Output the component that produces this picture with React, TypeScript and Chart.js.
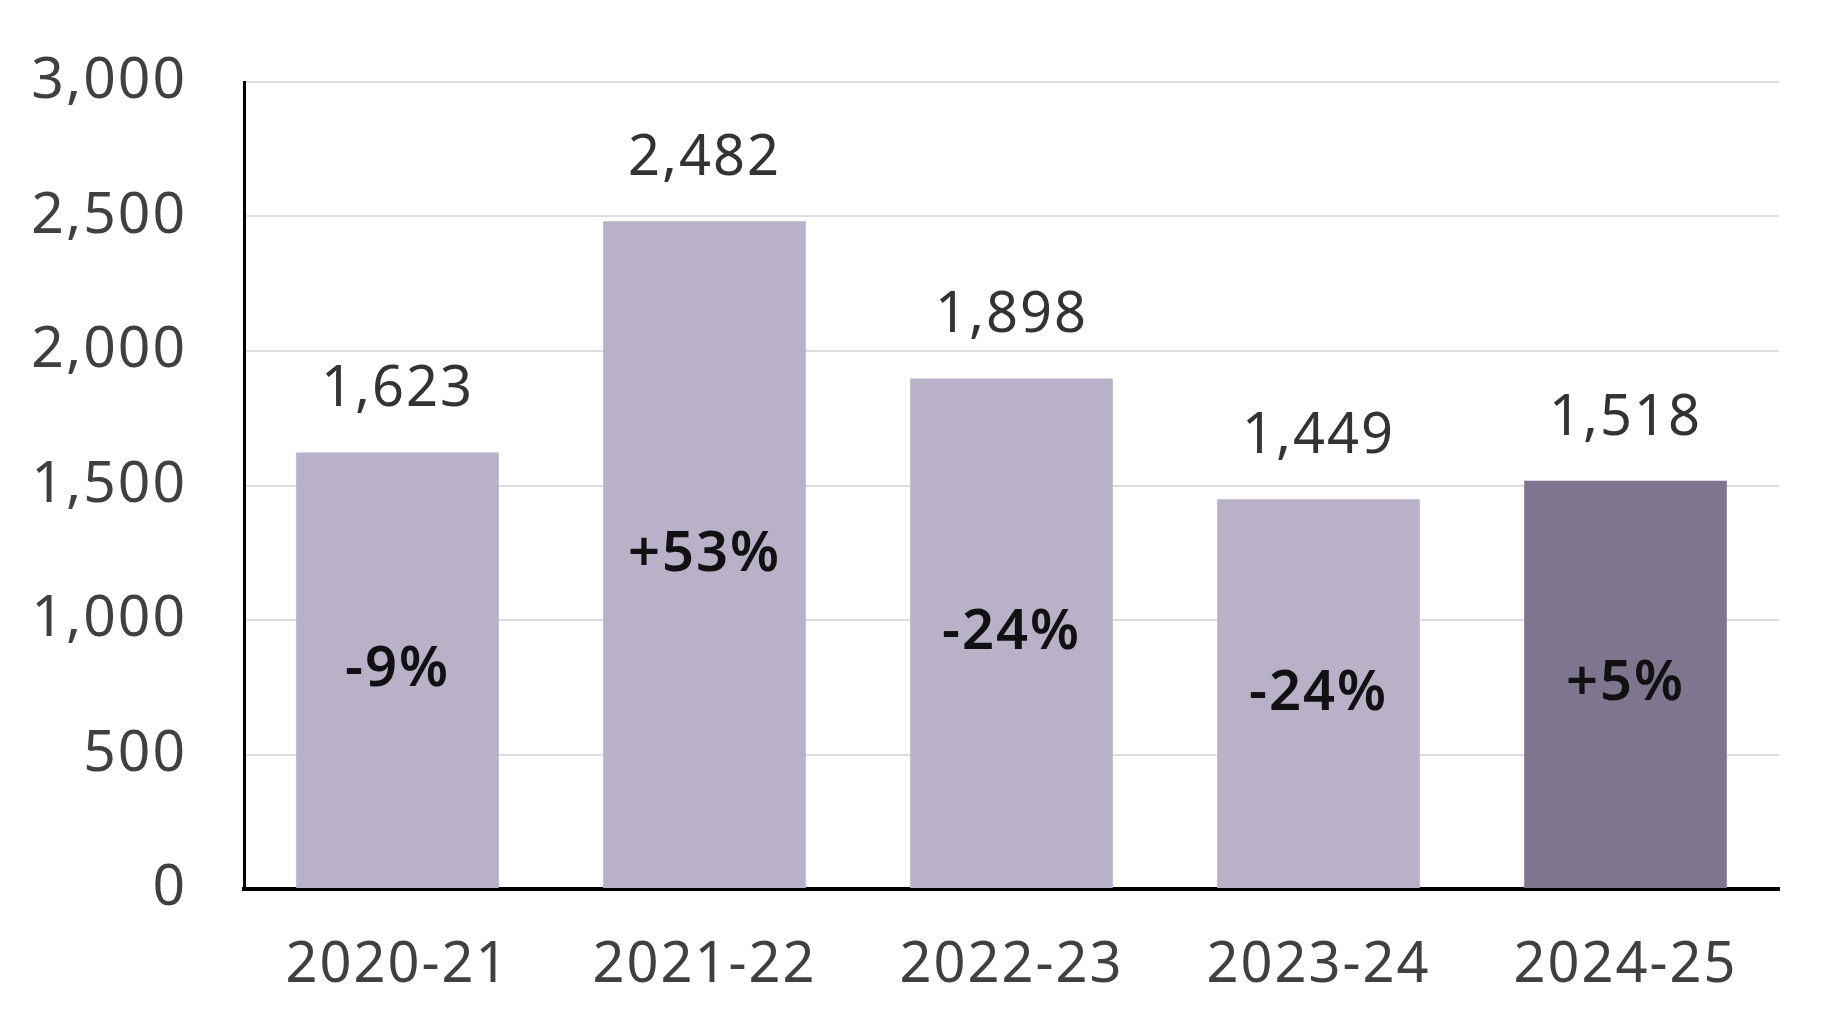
import React, { useEffect, useRef } from "react";
import { Chart, registerables } from "chart.js";

Chart.register(...registerables);

const categories = ["2020-21", "2021-22", "2022-23", "2023-24", "2024-25"];
const values = [1623, 2482, 1898, 1449, 1518];
const changes = ["-9%", "+53%", "-24%", "-24%", "+5%"];
const barColors = ["#b8b1c7", "#b8b1c7", "#b8b1c7", "#b8b1c7", "#7e768e"];
const yTicks = [0, 500, 1000, 1500, 2000, 2500, 3000];

const FONT = "'Noto Sans', sans-serif";

const spacingPlugin = {
  id: "letterSpacing",
  beforeDraw(chart: any) {
    chart.ctx.letterSpacing = "2px";
  },
};

const labelPlugin = {
  id: "barLabels",
  afterDatasetsDraw(chart: any) {
    const ctx = chart.ctx;
    const meta = chart.getDatasetMeta(0);
    ctx.save();
    ctx.letterSpacing = "2px";
    ctx.textAlign = "center";
    ctx.textBaseline = "middle";
    meta.data.forEach((bar: any, i: number) => {
      ctx.fillStyle = "#333333";
      ctx.font = `400 56px ${FONT}`;
      ctx.fillText(values[i].toLocaleString("en-US"), bar.x, bar.y - 62);
      ctx.fillStyle = "#111111";
      ctx.font = `600 56px ${FONT}`;
      ctx.fillText(changes[i], bar.x, (bar.y + bar.base) / 2);
    });
    ctx.restore();
  },
};

export default function App() {
  const ref = useRef<HTMLCanvasElement>(null);
  useEffect(() => {
    const chart = new Chart(ref.current!, {
      type: "bar",
      data: {
        labels: categories,
        datasets: [
          {
            data: values,
            backgroundColor: barColors,
            categoryPercentage: 0.66,
            barPercentage: 1,
          },
        ],
      },
      options: {
        animation: false,
        responsive: true,
        maintainAspectRatio: false,
        devicePixelRatio: 1,
        layout: { padding: { top: 82, right: 43, bottom: 0, left: 0 } },
        plugins: { legend: { display: false }, tooltip: { enabled: false } },
        scales: {
          x: {
            grid: { display: false },
            border: { color: "#000000", width: 4 },
            ticks: {
              color: "#404040",
              font: { family: FONT, size: 56 },
              padding: 35,
            },
            afterFit(scale: any) {
              scale.height = 131;
            },
          },
          y: {
            min: 0,
            max: 3000,
            afterBuildTicks(scale: any) {
              scale.ticks = yTicks.map((v) => ({ value: v }));
            },
            grid: {
              color: "#dddddd",
              lineWidth: 2,
              drawTicks: true,
              tickLength: 57,
              tickColor: "rgba(0,0,0,0)",
            },
            border: { color: "#000000", width: 3 },
            ticks: {
              color: "#404040",
              font: { family: FONT, size: 57 },
              padding: 0,
              callback: (v: any) => Number(v).toLocaleString("en-US"),
            },
            afterFit(scale: any) {
              scale.width = 244;
            },
          },
        },
      },
      plugins: [spacingPlugin, labelPlugin],
    });
    return () => chart.destroy();
  }, []);
  return (
    <div style={{ position: "fixed", left: 0, top: 0, width: 1822, height: 1020, background: "#fff" }}>
      <canvas ref={ref} />
    </div>
  );
}
